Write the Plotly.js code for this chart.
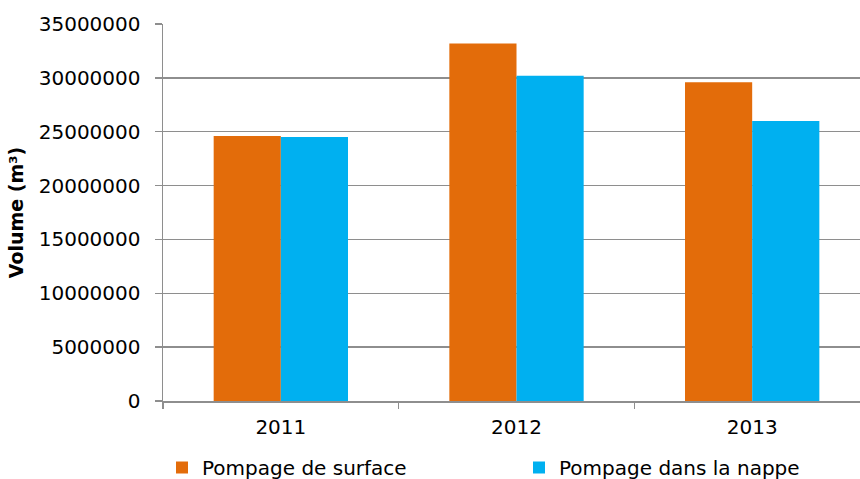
<!DOCTYPE html>
<html>
<head>
<meta charset="utf-8">
<script src="https://cdn.plot.ly/plotly-3.0.1.min.js"></script>
<style>html,body{margin:0;padding:0;background:#fff;}#chart{width:860px;height:479px;}</style>
</head>
<body>
<div id="chart"></div>
<script>
var years = ['2011', '2012', '2013'];
var surfaceValues = [24600000, 33200000, 29600000];
var nappeValues = [24500000, 30200000, 26000000];
var seriesNames = ['Pompage de surface', 'Pompage dans la nappe'];
var yTickValues = [0, 5000000, 10000000, 15000000, 20000000, 25000000, 30000000, 35000000];
var yTickLabels = ['0', '5000000', '10000000', '15000000', '20000000', '25000000', '30000000', '35000000'];

var font = 'DejaVu Sans, Verdana, sans-serif';
var data = [
  {type: 'bar', x: years, y: surfaceValues, name: seriesNames[0], marker: {color: '#E36C0A'}, hoverinfo: 'none', legend: 'legend'},
  {type: 'bar', x: years, y: nappeValues, name: seriesNames[1], marker: {color: '#00B0F0'}, hoverinfo: 'none', legend: 'legend2'}
];
function legendAt(px) {
  return {orientation: 'h', xref: 'container', yref: 'container', x: px/860, y: 1 - 448/479, xanchor: 'left', yanchor: 'top',
          font: {family: font, size: 20, color: '#000'}, itemclick: false, bgcolor: 'rgba(0,0,0,0)'};
}
var layout = {
  width: 860, height: 479,
  margin: {l: 163, r: 0, t: 24, b: 78},
  paper_bgcolor: '#fff', plot_bgcolor: '#fff',
  barmode: 'group', bargap: 0.43, bargroupgap: 0,
  font: {family: font, size: 20, color: '#000'},
  showlegend: true,
  legend: legendAt(162),
  legend2: legendAt(519),
  xaxis: {
    type: 'category', range: [-0.5, 2.4575], showgrid: false,
    showline: true, linecolor: '#8e8e8e', linewidth: 1.5,
    ticks: 'outside', tickson: 'boundaries', ticklen: 6, tickcolor: '#8e8e8e', tickwidth: 1.5,
    tickfont: {family: font, size: 20, color: '#000'}, ticklabelstandoff: 7,
    fixedrange: true
  },
  yaxis: {
    range: [0, 35000000], tickvals: yTickValues, ticktext: yTickLabels,
    showgrid: true, gridcolor: '#8e8e8e', gridwidth: 1.5,
    showline: true, linecolor: '#8e8e8e', linewidth: 1.5, zeroline: false,
    ticks: 'outside', ticklen: 7, tickcolor: '#8e8e8e', tickwidth: 1.5,
    tickfont: {family: font, size: 20, color: '#000'}, ticklabelstandoff: 10,
    title: {text: 'Volume (m³)\u00a0\u00a0\u00a0', font: {family: font, size: 19, color: '#000', weight: 'bold'}, standoff: 10},
    automargin: false, fixedrange: true
  }
};
Plotly.newPlot('chart', data, layout, {displayModeBar: false, staticPlot: true});
</script>
</body>
</html>
